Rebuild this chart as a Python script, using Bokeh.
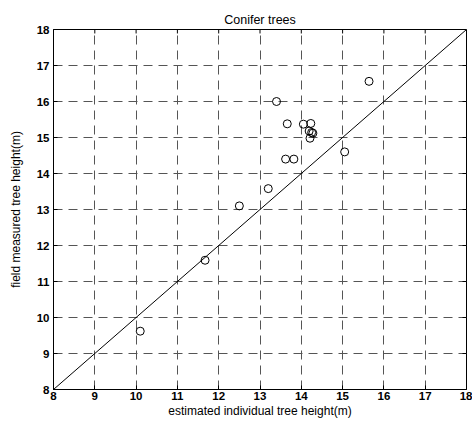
from bokeh.plotting import figure
from bokeh.models import ColumnDataSource, FixedTicker, Range1d
from bokeh.embed import file_html
from bokeh.resources import INLINE

# Data
est_height = [10.1, 11.67, 12.5, 13.2, 13.62, 13.82, 13.4, 13.66, 14.05, 14.23,
              14.19, 14.25, 14.28, 14.21, 15.05, 15.64]
field_height = [9.62, 11.59, 13.1, 13.58, 14.4, 14.4, 16.0, 15.38, 15.37, 15.39,
                15.18, 15.14, 15.12, 14.98, 14.6, 16.56]
line_x = [8, 18]
line_y = [8, 18]
ticks = [8, 9, 10, 11, 12, 13, 14, 15, 16, 17, 18]
axis_min, axis_max = 8, 18

FONT = "Liberation Sans"

p = figure(width=472, height=420, output_backend="svg", toolbar_location=None,
           x_range=Range1d(axis_min, axis_max), y_range=Range1d(axis_min, axis_max),
           title="Conifer trees",
           min_border_left=53, min_border_right=6, min_border_top=29, min_border_bottom=29)

p.title.align = "center"
p.title.text_font = FONT
p.title.text_font_style = "normal"
p.title.text_font_size = "12.5px"
p.title.text_color = "black"
p.title.offset = 0
p.title.standoff = 5

p.outline_line_color = "black"
p.outline_line_width = 1
p.background_fill_color = "white"
p.border_fill_color = "white"

for ax in (p.xaxis[0], p.yaxis[0]):
    ax.ticker = FixedTicker(ticks=ticks)
    ax.major_label_text_font = FONT
    ax.major_label_text_font_style = "bold"
    ax.major_label_text_font_size = "11.5px"
    ax.major_label_text_color = "black"
    ax.axis_label_text_font = FONT
    ax.axis_label_text_font_style = "normal"
    ax.axis_label_text_font_size = "12px"
    ax.axis_label_text_color = "black"
    ax.major_tick_in = 4
    ax.major_tick_out = 0
    ax.minor_tick_line_color = None
    ax.axis_line_color = "black"
    ax.major_tick_line_color = "black"

p.xaxis.axis_label = "estimated individual tree height(m)"
p.yaxis.axis_label = "field measured tree height(m)"
p.xaxis.major_label_standoff = 2
p.xaxis.axis_label_standoff = 1
p.yaxis.major_label_standoff = 4
p.yaxis.axis_label_standoff = 11

for g in (p.xgrid[0], p.ygrid[0]):
    g.ticker = FixedTicker(ticks=ticks)
    g.grid_line_color = "#555555"
    g.grid_line_dash = "9 6"
    g.grid_line_width = 1

# MATLAB-style box ticks on the top and right edges (inward, ~4px)
tick_len_y = 4 * (axis_max - axis_min) / 362
tick_len_x = 4 * (axis_max - axis_min) / 413
p.segment(x0=ticks, y0=[axis_max] * len(ticks), x1=ticks,
          y1=[axis_max - tick_len_y] * len(ticks), line_color="black", line_width=1)
p.segment(x0=[axis_max] * len(ticks), y0=ticks, x1=[axis_max - tick_len_x] * len(ticks),
          y1=ticks, line_color="black", line_width=1)

p.line(line_x, line_y, line_color="black", line_width=1)

src = ColumnDataSource(data=dict(x=est_height, y=field_height))
p.scatter("x", "y", source=src, marker="circle", size=8,
          fill_color=None, line_color="black", line_width=1)

open("out.html", "w").write(file_html(p, INLINE))
